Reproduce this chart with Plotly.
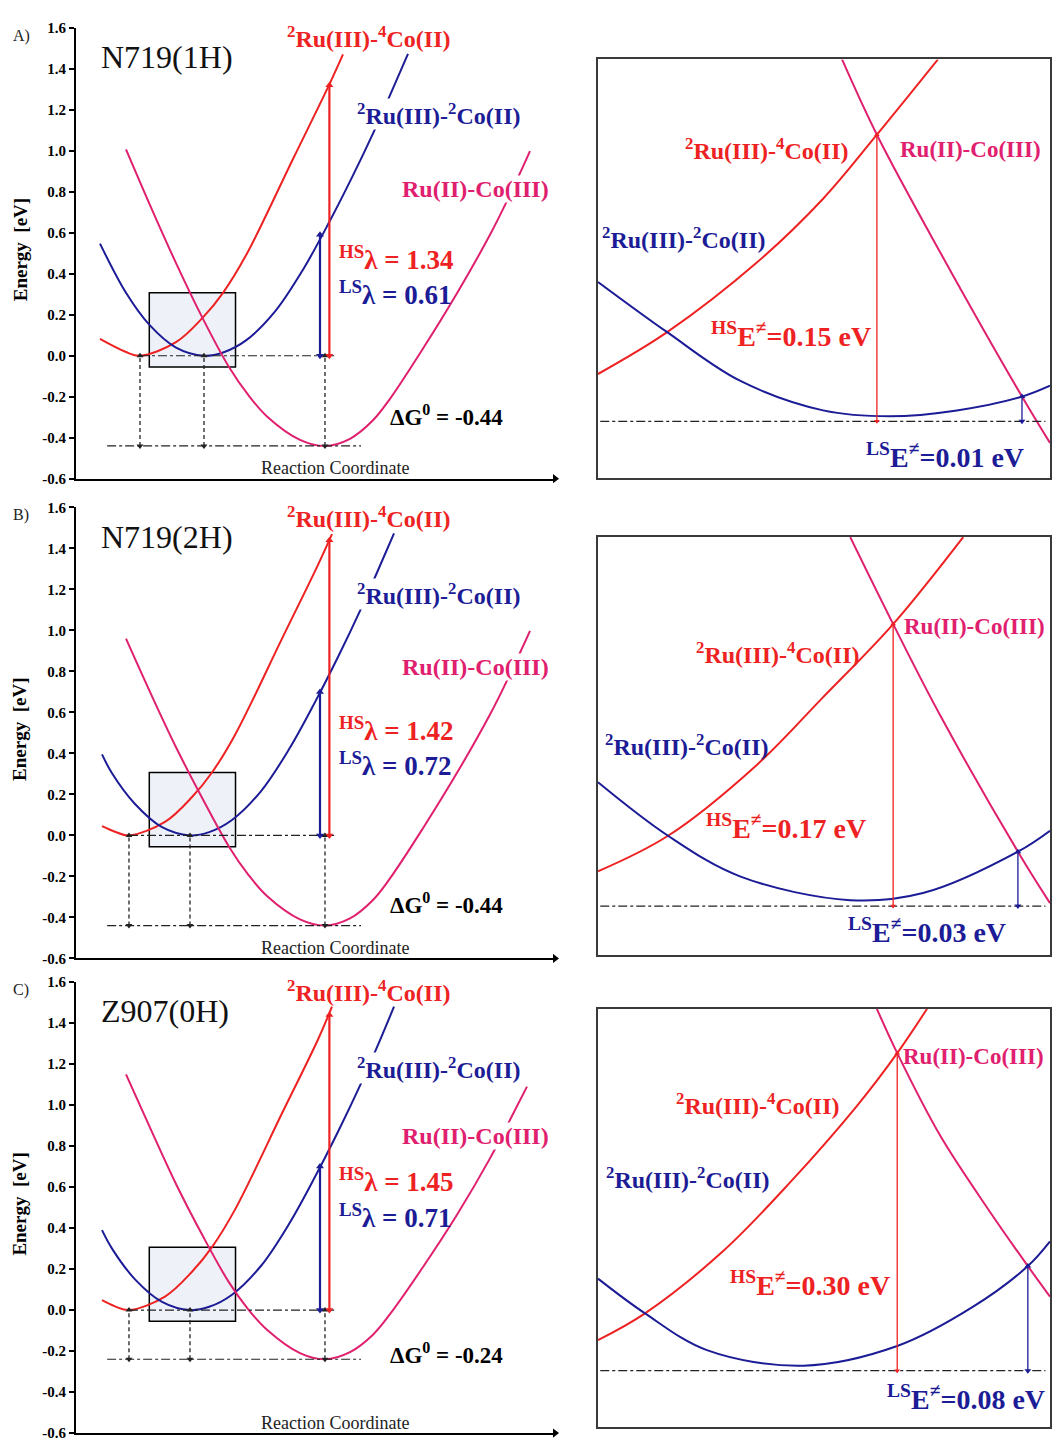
import plotly.graph_objects as go

SERIF = "Liberation Serif, Times New Roman, serif"
RED = "#ee2222"
BLUE = "#1c1c96"
PINK = "#e0206e"

# ---------------- values ----------------
PANEL_LETTERS = ["A)", "B)", "C)"]
PANEL_NAMES = ["N719(1H)", "N719(2H)", "Z907(0H)"]
DG0 = [-0.44, -0.44, -0.24]
HS_LAMBDA = [1.34, 1.42, 1.45]
LS_LAMBDA = [0.61, 0.72, 0.71]
HS_BARRIER = [0.15, 0.17, 0.30]
LS_BARRIER = [0.01, 0.03, 0.08]

Y_TICKS = [-0.6, -0.4, -0.2, 0.0, 0.2, 0.4, 0.6, 0.8, 1.0, 1.2, 1.4, 1.6]
Y_TICK_LABELS = ["-0.6", "-0.4", "-0.2", "0.0", "0.2", "0.4", "0.6", "0.8", "1.0", "1.2", "1.4", "1.6"]

# reaction coordinate (arb. units, 0-10) of minima and vertical arrows
RED_MIN_Q = [1.336, 1.106, 1.106]
BLUE_MIN_Q = [2.672, 2.380, 2.380]
PINK_MIN_Q = [5.198, 5.198, 5.198]
HS_ARROW_Q = [5.29, 5.29, 5.29]
HS_ARROW_TOP = [1.32, 1.44, 1.44]
LS_ARROW_Q = [5.094, 5.094, 5.094]
LS_ARROW_TOP = [0.59, 0.70, 0.70]
ZOOM_BOX_Q = [1.53, 3.33]
ZOOM_BOX_E = [-0.055, 0.307]

# panel A curves (q, E)
A_red_q = [0.501, 1.044, 1.336, 2.088, 2.651, 3.069, 3.549, 4.530, 5.282, 5.574]
A_red_E = [0.082, 0.018, 0.000, 0.066, 0.187, 0.307, 0.490, 0.960, 1.320, 1.470]
A_blue_q = [0.501, 1.044, 1.524, 2.088, 2.672, 3.072, 3.549, 4.152, 4.739, 5.282, 5.772, 6.221, 6.572, 6.931]
A_blue_E = [0.547, 0.307, 0.153, 0.040, 0.000, 0.016, 0.075, 0.215, 0.420, 0.650, 0.875, 1.095, 1.280, 1.473]
A_pink_q = [1.044, 1.545, 2.088, 2.651, 3.194, 3.591, 3.987, 4.676, 5.198, 5.720, 6.200, 6.555,
            7.244, 7.954, 8.643, 8.956, 9.311, 9.478]
A_pink_E = [1.007, 0.735, 0.452, 0.180, -0.055, -0.190, -0.296, -0.410, -0.440, -0.405, -0.315, -0.210,
            0.035, 0.305, 0.590, 0.735, 0.912, 0.998]

# panel B curves
B_red_q = [0.543, 0.814, 1.106, 1.858, 2.422, 2.839, 3.319, 4.301, 5.052, 5.344]
B_red_E = [0.045, 0.018, 0.000, 0.066, 0.187, 0.307, 0.490, 0.960, 1.320, 1.470]
B_blue_q = [0.543, 0.752, 1.232, 1.796, 2.380, 2.780, 3.257, 3.860, 4.447, 4.990, 5.480, 5.929, 6.280, 6.639]
B_blue_E = [0.395, 0.303, 0.153, 0.040, 0.000, 0.016, 0.075, 0.215, 0.420, 0.650, 0.875, 1.095, 1.280, 1.473]
B_pink_q = [1.044, 1.545, 2.088, 2.651, 3.194, 3.591, 3.987, 4.676, 5.198, 5.720, 6.200, 6.555,
            7.244, 7.954, 8.643, 8.956, 9.311, 9.478]
B_pink_E = [0.960, 0.700, 0.430, 0.175, -0.055, -0.190, -0.296, -0.410, -0.440, -0.405, -0.315, -0.210,
            0.035, 0.305, 0.590, 0.735, 0.912, 0.998]

# panel C curves
C_red_q = [0.543, 0.814, 1.106, 1.858, 2.422, 2.839, 3.319, 4.301, 5.052, 5.344]
C_red_E = [0.048, 0.018, 0.000, 0.066, 0.187, 0.307, 0.490, 0.960, 1.320, 1.480]
C_blue_q = [0.543, 0.752, 1.232, 1.796, 2.380, 2.780, 3.257, 3.860, 4.447, 4.990, 5.480, 5.929, 6.280, 6.639]
C_blue_E = [0.390, 0.300, 0.150, 0.040, 0.000, 0.016, 0.075, 0.215, 0.420, 0.650, 0.875, 1.095, 1.280, 1.480]
C_pink_q = [1.044, 1.545, 2.088, 2.651, 3.194, 3.591, 3.987, 4.676, 5.198, 5.720, 6.200, 6.555,
            7.244, 7.954, 8.643, 8.956, 9.415]
C_pink_E = [1.150, 0.890, 0.615, 0.360, 0.135, 0.005, -0.096, -0.210, -0.240, -0.205, -0.120, -0.020,
            0.210, 0.465, 0.740, 0.880, 1.090]

# zoomed (right) panels, arbitrary units 0-100
RA_red_x = [0, 15.3, 35.2, 49.8, 61.7, 75.2]
RA_red_y = [24.8, 34.8, 51.5, 66.7, 82.0, 100]
RA_blue_x = [0, 15.3, 31.4, 49.8, 64.6, 79.4, 93.8, 100]
RA_blue_y = [46.8, 34.8, 23.2, 16.1, 14.7, 16.1, 19.4, 22.0]
RA_pink_x = [54.0, 61.7, 75.7, 93.8, 100]
RA_pink_y = [100, 82.0, 53.9, 19.4, 8.3]

RB_red_x = [0, 15.5, 35.2, 49.6, 65.3, 80.8]
RB_red_y = [20.1, 28.6, 45.6, 61.5, 79.2, 100]
RB_blue_x = [0, 15.5, 31.4, 55.8, 71.9, 92.9, 100]
RB_blue_y = [41.4, 28.6, 18.9, 13.2, 14.9, 24.8, 29.8]
RB_pink_x = [55.8, 65.3, 75.7, 92.9, 100]
RB_pink_y = [100, 79.2, 57.4, 24.8, 12.5]

RC_red_x = [0, 10.4, 27.7, 42.5, 57.3, 66.2, 72.8]
RC_red_y = [20.8, 27.2, 42.1, 58.5, 76.8, 89.4, 100]
RC_blue_x = [0, 10.4, 24.1, 45.4, 66.2, 83.0, 95.1, 100]
RC_blue_y = [35.5, 27.2, 18.4, 14.7, 19.4, 28.8, 38.5, 44.4]
RC_pink_x = [61.7, 66.2, 75.7, 86.7, 95.1, 100]
RC_pink_y = [100, 89.4, 69.7, 51.5, 38.5, 31.2]

R_BASE = [13.5, 11.8, 13.5]
R_HS_X = [61.7, 65.3, 66.2]
R_HS_TOP = [82.0, 79.2, 89.4]
R_LS_X = [93.8, 92.9, 95.1]
R_LS_TOP = [19.4, 24.8, 38.5]

# ---------------- layout configuration (positions / styles) ----------------
W, H = 1052, 1447
LEFT_X_PX = (76, 555)
RIGHT_X_PX = (598, 1050)
LEFT_Y_PX = [(20, 476), (505, 961), (985, 1441)]
RIGHT_Y_PX = [(52, 475), (535, 958), (1012, 1435)]

LBL_HS_E = [0.478, 0.52, 0.635]
LBL_LS_E = [0.304, 0.35, 0.457]
LBL_DG_E = [-0.29, -0.33, -0.21]
LBL_PINK_E = [0.815, 0.82, 0.85]
ENERGY_LBL_PX = [245, 730, 1210]
LETTER_PX = [28, 513, 993]

R_LBL_RED = [(37.2, 78.5), (39.8, 72.3), (35.2, 77.3)]
R_LBL_PINK = [(66.3, 78.5), (67.3, 78.7), (67.0, 88.7)]
R_LBL_BLUE = [(19.0, 57.2), (19.5, 50.4), (19.7, 59.6)]
R_LBL_HS = [(42.7, 34.3), (41.6, 30.7), (46.9, 34.3)]
R_LBL_LS = [(76.8, 5.2), (72.8, 5.9), (81.4, 7.1)]

fig = go.Figure()
annotations = []
shapes = []


def names(i):
    return ("x" if i == 1 else f"x{i}"), ("y" if i == 1 else f"y{i}")


def curve(i, xs, ys, color, width=2.0, dash=None, spline=True):
    xa, ya = names(i)
    fig.add_trace(go.Scatter(
        x=xs, y=ys, mode="lines", xaxis=xa, yaxis=ya, hoverinfo="skip",
        line=dict(color=color, width=width, dash=dash,
                  shape="spline" if spline else "linear", smoothing=1.0)))


def varrow(i, x, y_bottom, y_top, color, width, dash=None, head=7):
    """vertical double-headed arrow: a line with triangle markers at both ends"""
    xa, ya = names(i)
    fig.add_trace(go.Scatter(
        x=[x, x], y=[y_bottom, y_top], mode="lines+markers", xaxis=xa, yaxis=ya,
        hoverinfo="skip", cliponaxis=False,
        line=dict(color=color, width=width, dash=dash),
        marker=dict(symbol=["triangle-down", "triangle-up"], size=head, color=color,
                    line=dict(width=0))))


def label(i, x, y, text, color, size, bold=True, xanchor="center", bg=None):
    xa, ya = names(i)
    d = dict(x=x, y=y, xref=xa, yref=ya, showarrow=False,
             text=f"<b>{text}</b>" if bold else text, xanchor=xanchor, yanchor="middle",
             font=dict(family=SERIF, size=size, color=color))
    if bg:
        d.update(bgcolor=bg, borderpad=0)
    annotations.append(d)


left_data = [
    (A_red_q, A_red_E, A_blue_q, A_blue_E, A_pink_q, A_pink_E),
    (B_red_q, B_red_E, B_blue_q, B_blue_E, B_pink_q, B_pink_E),
    (C_red_q, C_red_E, C_blue_q, C_blue_E, C_pink_q, C_pink_E),
]
right_data = [
    (RA_red_x, RA_red_y, RA_blue_x, RA_blue_y, RA_pink_x, RA_pink_y),
    (RB_red_x, RB_red_y, RB_blue_x, RB_blue_y, RB_pink_x, RB_pink_y),
    (RC_red_x, RC_red_y, RC_blue_x, RC_blue_y, RC_pink_x, RC_pink_y),
]

layout_axes = {}
for k in range(3):
    iL = 2 * k + 1
    iR = 2 * k + 2
    xa, ya = names(iL)
    xr, yr = names(iR)
    top, bot = LEFT_Y_PX[k]
    layout_axes["xaxis" if iL == 1 else f"xaxis{iL}"] = dict(
        domain=[LEFT_X_PX[0] / W, LEFT_X_PX[1] / W], range=[0, 10], anchor=ya,
        showline=True, linecolor="black", linewidth=2, showticklabels=False,
        ticks="", showgrid=False, zeroline=False, fixedrange=True)
    layout_axes["yaxis" if iL == 1 else f"yaxis{iL}"] = dict(
        domain=[1 - bot / H, 1 - top / H], range=[-0.6, 1.6], anchor=xa,
        showline=True, linecolor="black", linewidth=2, ticks="outside", ticklen=5,
        tickwidth=1.5, tickcolor="black", tickvals=Y_TICKS, ticktext=Y_TICK_LABELS,
        tickfont=dict(family=SERIF, size=15, color="black", weight="bold"),
        showgrid=False, zeroline=False, fixedrange=True)
    rt, rb = RIGHT_Y_PX[k]
    layout_axes[f"xaxis{iR}"] = dict(
        domain=[RIGHT_X_PX[0] / W, RIGHT_X_PX[1] / W], range=[0, 100], anchor=yr,
        showline=True, mirror=True, linecolor="#3a3a3a", linewidth=2,
        showticklabels=False, ticks="", showgrid=False, zeroline=False, fixedrange=True)
    layout_axes[f"yaxis{iR}"] = dict(
        domain=[1 - rb / H, 1 - rt / H], range=[0, 100], anchor=xr,
        showline=True, mirror=True, linecolor="#3a3a3a", linewidth=2,
        showticklabels=False, ticks="", showgrid=False, zeroline=False, fixedrange=True)

    # ---------- left panel ----------
    rq, rE, bq, bE, pq, pE = left_data[k]
    shapes.append(dict(type="rect", xref=xa, yref=ya, x0=ZOOM_BOX_Q[0], x1=ZOOM_BOX_Q[1],
                       y0=ZOOM_BOX_E[0], y1=ZOOM_BOX_E[1], fillcolor="#eef2f8",
                       line=dict(color="black", width=1.5), layer="below"))
    curve(iL, rq, rE, RED)
    curve(iL, bq, bE, BLUE)
    curve(iL, pq, pE, PINK)

    dg = DG0[k]
    # dash-dot reference levels
    curve(iL, [RED_MIN_Q[k], 5.39], [0.0, 0.0], "#222222", 1.2, "dashdot", False)
    curve(iL, [0.65, 5.95], [dg, dg], "#222222", 1.2, "dashdot", False)
    # dashed double arrows (driving force)
    for qv in (RED_MIN_Q[k], BLUE_MIN_Q[k], PINK_MIN_Q[k]):
        varrow(iL, qv, dg, 0.0, "#222222", 1.3, "4px,3px", head=6)
    # reorganisation-energy arrows
    varrow(iL, HS_ARROW_Q[k], 0.0, HS_ARROW_TOP[k], RED, 2.2, head=7)
    varrow(iL, LS_ARROW_Q[k], 0.0, LS_ARROW_TOP[k], BLUE, 2.2, head=7)
    # x-axis arrow head
    fig.add_trace(go.Scatter(x=[10.0], y=[-0.6], mode="markers", xaxis=xa, yaxis=ya,
                             cliponaxis=False, hoverinfo="skip",
                             marker=dict(symbol="triangle-right", size=8, color="black",
                                         line=dict(width=0))))

    label(iL, 6.10, 1.555, "<sup>2</sup>Ru(III)-<sup>4</sup>Co(II)", RED, 24)
    label(iL, 7.56, 1.18, "<sup>2</sup>Ru(III)-<sup>2</sup>Co(II)", BLUE, 24, bg="white")
    label(iL, 8.35, LBL_PINK_E[k], "Ru(II)-Co(III)", PINK, 24, bg="white")
    label(iL, 5.44, LBL_HS_E[k], f"<sup>HS</sup>λ = {HS_LAMBDA[k]:.2f}", RED, 27, xanchor="left")
    label(iL, 5.44, LBL_LS_E[k], f"<sup>LS</sup>λ = {LS_LAMBDA[k]:.2f}", BLUE, 27, xanchor="left")
    label(iL, 6.52, LBL_DG_E[k], f"ΔG<sup>0</sup> = {dg:.2f}", "black", 23, xanchor="left")
    label(iL, 0.48, 1.457, PANEL_NAMES[k], "#111111", 32, bold=False, xanchor="left")
    label(iL, 5.41, -0.55, "Reaction Coordinate", "#222222", 18, bold=False)

    annotations.append(dict(x=20 / W, y=1 - ENERGY_LBL_PX[k] / H, xref="paper", yref="paper",
                            text="<b>Energy  [eV]</b>", textangle=-90, showarrow=False,
                            xanchor="center", yanchor="middle",
                            font=dict(family=SERIF, size=19, color="black")))
    annotations.append(dict(x=21 / W, y=1 - LETTER_PX[k] / H, xref="paper", yref="paper",
                            text=PANEL_LETTERS[k], showarrow=False,
                            xanchor="center", yanchor="middle",
                            font=dict(family=SERIF, size=16, color="#222222")))

    # ---------- right (zoomed) panel ----------
    rx, ry, bx, by, px, py = right_data[k]
    curve(iR, rx, ry, RED, 2.0)
    curve(iR, bx, by, BLUE, 2.0)
    curve(iR, px, py, PINK, 2.0)
    curve(iR, [0.5, 99], [R_BASE[k], R_BASE[k]], "#222222", 1.3, "dashdot", False)
    varrow(iR, R_HS_X[k], R_BASE[k], R_HS_TOP[k], RED, 1.3, head=5)
    varrow(iR, R_LS_X[k], R_BASE[k], R_LS_TOP[k], BLUE, 1.3, head=6)

    label(iR, *R_LBL_RED[k], "<sup>2</sup>Ru(III)-<sup>4</sup>Co(II)", RED, 24)
    label(iR, *R_LBL_PINK[k], "Ru(II)-Co(III)", PINK, 23, xanchor="left")
    label(iR, *R_LBL_BLUE[k], "<sup>2</sup>Ru(III)-<sup>2</sup>Co(II)", BLUE, 24)
    label(iR, *R_LBL_HS[k], f"<sup>HS</sup>E<sup>≠</sup>={HS_BARRIER[k]:.2f} eV", RED, 28)
    label(iR, *R_LBL_LS[k], f"<sup>LS</sup>E<sup>≠</sup>={LS_BARRIER[k]:.2f} eV", BLUE, 28)

fig.update_layout(
    width=W, height=H, margin=dict(l=0, r=0, t=0, b=0),
    paper_bgcolor="white", plot_bgcolor="white", showlegend=False,
    annotations=annotations, shapes=shapes, **layout_axes)

fig.write_html("out.html", config={"displayModeBar": False},
               post_script="document.body.style.margin='0px';")
